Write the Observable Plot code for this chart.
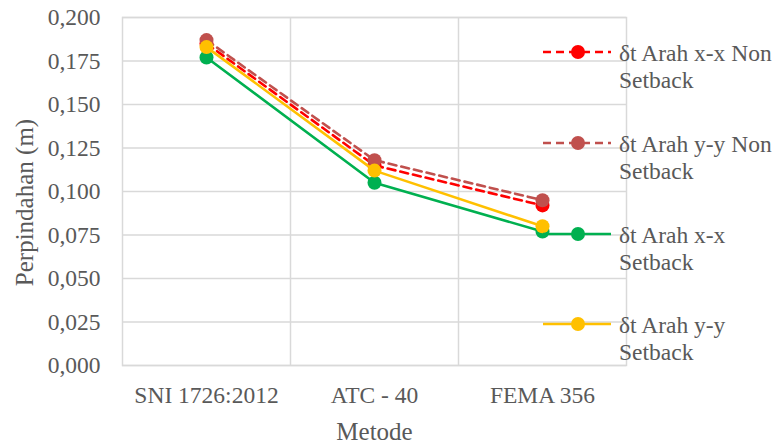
<!DOCTYPE html>
<html>
<head>
<meta charset="utf-8">
<script src="https://cdn.jsdelivr.net/npm/d3@7"></script>
<script src="https://cdn.jsdelivr.net/npm/@observablehq/plot@0.6"></script>
<style>
  html, body { margin: 0; padding: 0; background: #fff; }
  #wrap { position: relative; width: 780px; height: 444px; }
  #legend { position: absolute; left: 0; top: 0; pointer-events: none; }
</style>
</head>
<body>
<div id="wrap"></div>
<script>
// Displacement (m) per method, for each direction / building type
const methods = ["SNI 1726:2012", "ATC - 40", "FEMA 356"];
const xxNonSetback = [0.185, 0.115, 0.092];
const yyNonSetback = [0.187, 0.118, 0.095];
const xxSetback = [0.177, 0.105, 0.077];
const yySetback = [0.183, 0.112, 0.080];
const yTicks = [0, 0.025, 0.05, 0.075, 0.1, 0.125, 0.15, 0.175, 0.2];

const seriesList = [
  {name: "δt Arah x-x Non Setback", lines: ["δt Arah x-x Non", "Setback"], values: xxNonSetback, color: "#FF0000", dash: "8,5"},
  {name: "δt Arah y-y Non Setback", lines: ["δt Arah y-y Non", "Setback"], values: yyNonSetback, color: "#C0504D", dash: "8,5"},
  {name: "δt Arah x-x Setback", lines: ["δt Arah x-x", "Setback"], values: xxSetback, color: "#00B050", dash: null},
  {name: "δt Arah y-y Setback", lines: ["δt Arah y-y", "Setback"], values: yySetback, color: "#FFC000", dash: null}
];

const font = "'Liberation Serif', 'Times New Roman', serif";
const textColor = "#595959";
const gridColor = "#D9D9D9";

const seriesMarks = seriesList.flatMap(s => {
  const rows = s.values.map((v, i) => ({i, v}));
  return [
    Plot.line(rows, {x: "i", y: "v", stroke: s.color, strokeWidth: 2.6, strokeDasharray: s.dash || undefined}),
    Plot.dot(rows, {x: "i", y: "v", r: 7, fill: s.color, stroke: "none"})
  ];
});

const chart = Plot.plot({
  width: 780,
  height: 444,
  marginLeft: 122,
  marginRight: 154,
  marginTop: 17,
  marginBottom: 79,
  style: {fontFamily: font, fontSize: "23.5px", color: textColor, background: "#fff"},
  x: {type: "linear", domain: [-0.5, 2.5], axis: null},
  y: {domain: [0, 0.2], axis: null},
  marks: [
    Plot.gridY(yTicks, {stroke: gridColor, strokeOpacity: 1, strokeWidth: 1.5}),
    Plot.ruleX([0.5, 1.5], {stroke: gridColor, strokeWidth: 1.5}),
    Plot.frame({stroke: gridColor, strokeWidth: 1.5}),
    Plot.axisY(yTicks, {
      tickSize: 0, tickPadding: 22, fill: textColor,
      tickFormat: d => d.toFixed(3).replace(".", ","), label: null
    }),
    Plot.axisX([0, 1, 2], {
      tickSize: 0, tickPadding: 21, fill: textColor,
      tickFormat: i => methods[i], label: null
    }),
    Plot.text(["Perpindahan (m)"], {
      frameAnchor: "left", dx: -98, dy: 11, rotate: -90,
      fill: textColor, fontSize: 25, lineAnchor: "middle", textAnchor: "middle"
    }),
    Plot.text(["Metode"], {
      frameAnchor: "bottom", dy: 66,
      fill: textColor, fontSize: 25, lineAnchor: "middle", textAnchor: "middle"
    }),
    ...seriesMarks
  ]
});

const wrap = document.getElementById("wrap");
wrap.appendChild(chart);

// Legend drawn over the right side of the chart
const legendY = [52, 143, 234, 324];
const svg = d3.select(wrap).append("svg")
  .attr("id", "legend").attr("width", 780).attr("height", 444);
seriesList.forEach((s, k) => {
  const g = svg.append("g").attr("transform", `translate(0,${legendY[k]})`);
  g.append("line")
    .attr("x1", 543).attr("x2", 611).attr("y1", 0).attr("y2", 0)
    .attr("stroke", s.color).attr("stroke-width", 2.6)
    .attr("stroke-dasharray", s.dash || null);
  g.append("circle").attr("cx", 578).attr("cy", 0).attr("r", 7).attr("fill", s.color);
  s.lines.forEach((t, j) => {
    g.append("text")
      .attr("x", 619).attr("y", 1 + j * 27)
      .attr("dy", "0.32em")
      .attr("fill", textColor)
      .style("font-family", font).style("font-size", "23.5px")
      .text(t);
  });
});
</script>
</body>
</html>
